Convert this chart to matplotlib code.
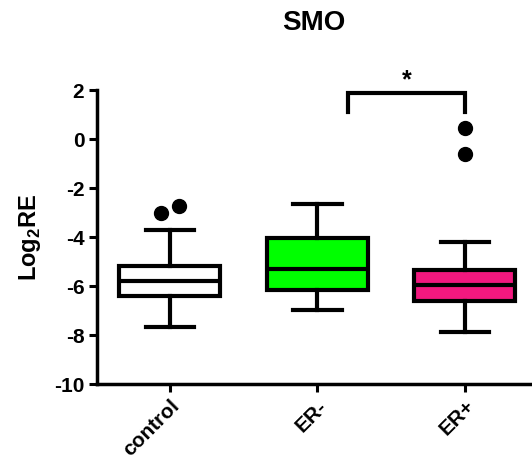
import matplotlib
matplotlib.use("Agg")
import matplotlib.pyplot as plt

categories = ["control", "ER-", "ER+"]
whislo = [-7.66, -6.97, -7.86]
q1 = [-6.39, -6.16, -6.61]
med = [-5.80, -5.32, -5.96]
q3 = [-5.18, -4.03, -5.35]
whishi = [-3.71, -2.63, -4.19]
fliers = [[-3.0, -2.71], [], [0.44, -0.61]]
flier_offsets = [[-0.06, 0.06], [], [0.0, 0.0]]
colors = ["#FFFFFF", "#00FF00", "#F2187F"]
yticks = [2, 0, -2, -4, -6, -8, -10]

plt.rcParams['font.family'] = ['Liberation Sans', 'DejaVu Sans']
plt.rcParams['font.weight'] = 'bold'
plt.rcParams['mathtext.fontset'] = 'custom'
plt.rcParams['mathtext.bf'] = 'Liberation Sans:bold'
plt.rcParams['mathtext.rm'] = 'Liberation Sans:bold'

fig = plt.figure(figsize=(5.32, 4.65), dpi=100)
ax = fig.add_axes([0.182, 0.174, 0.814, 0.632])

stats = []
for i in range(3):
    stats.append(dict(whislo=whislo[i], q1=q1[i], med=med[i], q3=q3[i],
                      whishi=whishi[i], fliers=[], label=categories[i]))
lw = 3.0
bp = ax.bxp(stats, positions=range(3), widths=0.685, patch_artist=True,
            showfliers=False,
            boxprops=dict(linewidth=lw, edgecolor='black'),
            medianprops=dict(linewidth=lw, color='black'),
            whiskerprops=dict(linewidth=lw, color='black'),
            capprops=dict(linewidth=lw, color='black'),
            capwidths=0.33)
for patch, c in zip(bp['boxes'], colors):
    patch.set_facecolor(c)
    patch.set_joinstyle('miter')

for i in range(3):
    xs = [i + o for o in flier_offsets[i]]
    ax.plot(xs, fliers[i], 'o', color='black', markersize=10, clip_on=False)

# significance bracket
bx0, bx1, by_top, by_bot = 1.207, 2.0, 1.89, 1.11
ax.plot([bx0, bx0, bx1, bx1], [by_bot, by_top, by_top, by_bot],
        color='black', linewidth=lw, clip_on=False, solid_joinstyle='miter')
ax.text((bx0 + bx1) / 2, by_top + 0.02, "*", ha='center', va='bottom',
        fontsize=18, fontweight='bold')

ax.set_xlim(-0.495, 2.44)
ax.set_ylim(-10, 2)
ax.set_yticks(yticks)
ax.set_yticklabels([str(t) for t in yticks], fontsize=15, fontweight='bold')
ax.set_xticks(range(3))
ax.set_xticklabels(categories, rotation=45, ha='right', rotation_mode='anchor',
                   fontsize=15, fontweight='bold')
for s in ['top', 'right']:
    ax.spines[s].set_visible(False)
for s in ['left', 'bottom']:
    ax.spines[s].set_linewidth(2.5)
ax.tick_params(axis='both', width=2.2, length=6, pad=3)
ax.set_ylabel("Log$_\\mathbf{2}$RE", fontsize=17, fontweight='bold', labelpad=8)
ax.set_title("SMO", fontsize=20, fontweight='bold', pad=43)

fig.savefig("out.png", dpi=100)
